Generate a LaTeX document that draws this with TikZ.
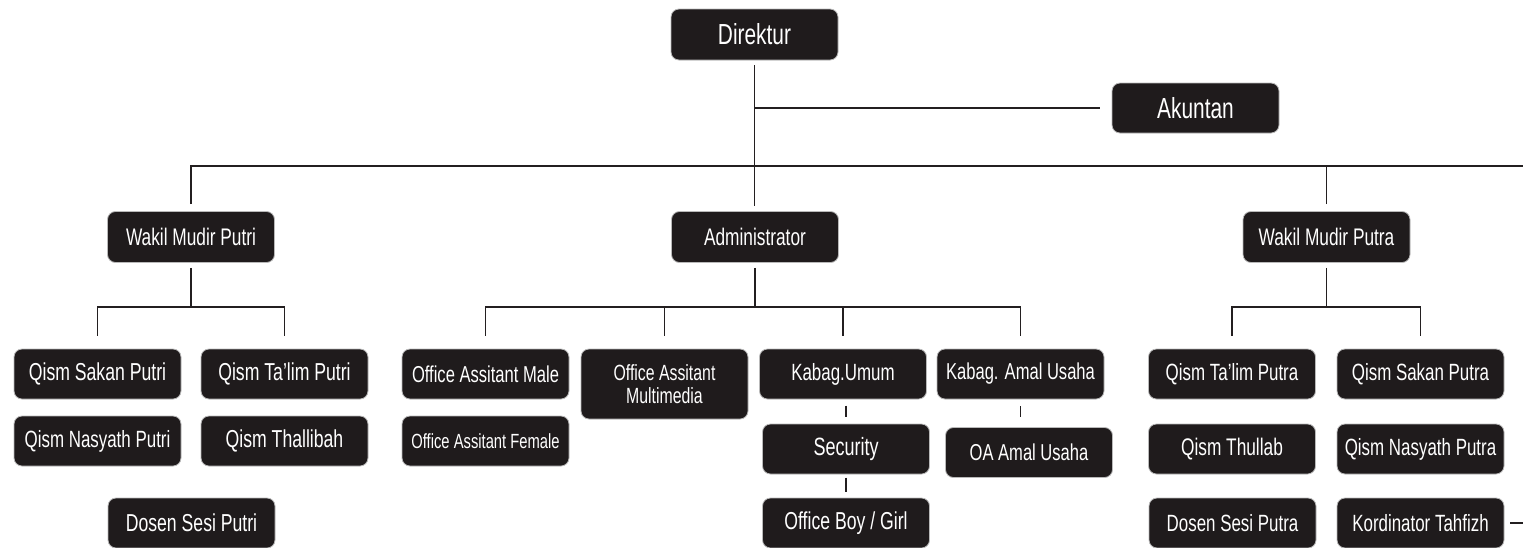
\documentclass[tikz,border=0pt]{standalone}
\usepackage{fontspec}
\setmainfont{Liberation Sans}[FakeStretch=0.72]
\usetikzlibrary{calc}
\definecolor{boxfill}{HTML}{1F1B1C}
\definecolor{linec}{HTML}{231F20}
\tikzset{
  orgbox/.style={draw=gray!55, line width=0.8pt, fill=boxfill, rounded corners=8pt,
    text=white, minimum width=167pt, minimum height=50pt, inner sep=0pt,
    font=\fontsize{24}{26}\selectfont, align=center},
  bigbox/.style={orgbox, font=\fontsize{29}{31}\selectfont, minimum height=51pt},
  conn/.style={draw=linec, line width=1.7pt},
  tick/.style={draw=linec, line width=1.7pt}
}
\begin{document}
\begin{tikzpicture}[x=1pt,y=-1pt]
\useasboundingbox (0,0) rectangle (1523,547);
% level 0/1
\node[bigbox] (dir) at (754.5,34.5) {Direktur};
\node[bigbox, minimum height=50pt] (akun) at (1195.5,108) {Akuntan};
% level 2
\node[orgbox, minimum height=51pt] (wput) at (191,237) {Wakil Mudir Putri};
\node[orgbox, minimum height=51pt] (adm) at (755,237) {Administrator};
\node[orgbox, minimum height=51pt] (wpa) at (1326.5,237) {Wakil Mudir Putra};
% Putri group
\node[orgbox, font=\fontsize{24.5}{26}\selectfont] (qsp) at (97.5,374) {Qism Sakan Putri};
\node[orgbox, font=\fontsize{24.5}{26}\selectfont] (qtp) at (284.5,374) {Qism Ta’lim Putri};
\node[orgbox, font=\fontsize{23.5}{26}\selectfont] (qnp) at (97.5,441) {Qism Nasyath Putri};
\node[orgbox, font=\fontsize{24.5}{26}\selectfont] (qth) at (284.5,441) {Qism Thallibah};
\node[orgbox, font=\fontsize{24.5}{26}\selectfont] (dsp) at (191.5,523) {Dosen Sesi Putri};
% Admin group
\node[orgbox, font=\fontsize{23}{26}\selectfont] (oam) at (485.5,374) {Office Assitant Male};
\node[orgbox, font=\fontsize{20.5}{26}\selectfont] (oaf) at (485.5,441) {Office Assitant Female};
\node[orgbox, minimum height=70pt, font=\fontsize{22}{23}\selectfont] (oamm) at (664.5,384) {Office Assitant\\Multimedia};
\node[orgbox, font=\fontsize{23.5}{26}\selectfont] (kum) at (843,374) {Kabag.Umum};
\node[orgbox, font=\fontsize{25}{26}\selectfont] (sec) at (846,449) {Security};
\node[orgbox, font=\fontsize{24.5}{26}\selectfont] (obg) at (846,523) {Office Boy / Girl};
\node[orgbox, font=\fontsize{23}{26}\selectfont] (kau) at (1020.5,374) {Kabag. Amal Usaha};
\node[orgbox, font=\fontsize{23}{26}\selectfont] (oau) at (1029,452.5) {OA Amal Usaha};
% Putra group
\node[orgbox, font=\fontsize{23.5}{26}\selectfont] (qtpa) at (1232,374) {Qism Ta’lim Putra};
\node[orgbox, font=\fontsize{23.5}{26}\selectfont] (qspa) at (1420.5,374) {Qism Sakan Putra};
\node[orgbox, font=\fontsize{24}{26}\selectfont] (qthu) at (1232,449) {Qism Thullab};
\node[orgbox, font=\fontsize{23.5}{26}\selectfont] (qnpa) at (1420.5,449) {Qism Nasyath Putra};
\node[orgbox, font=\fontsize{23.5}{26}\selectfont] (dspa) at (1232.5,523) {Dosen Sesi Putra};
\node[orgbox, font=\fontsize{23.5}{26}\selectfont] (kt) at (1420.5,523) {Kordinator Tahfizh};
% helper coordinates
\coordinate (busR) at (1523,166);
\coordinate (pb) at (191,307);
\coordinate (ab) at (755,307);
\coordinate (rb) at (1326.5,307);
\coordinate (ktend) at (1523,523);
% connectors
\draw[conn] ([yshift=-5pt]dir.south) -- ([yshift=5pt]dir.south |- adm.north);
\draw[conn] (dir.south |- akun.west) -- ([xshift=-12pt]akun.west);
\draw[conn] ([yshift=7pt]wput.north) |- (busR);
\draw[conn] ([yshift=7pt]wpa.north) -- (wpa.north |- busR);
% Putri
\draw[conn] ([yshift=-5pt]wput.south) -- (wput.south |- pb);
\draw[conn] ([yshift=13pt]qsp.north) |- (pb) -| ([yshift=13pt]qtp.north);
% Admin
\draw[conn] ([yshift=-5pt]adm.south) -- (adm.south |- ab);
\draw[conn] ([yshift=13pt]oam.north) |- (ab) -| ([yshift=13pt]kau.north);
\draw[conn] ([yshift=13pt]oamm.north) -- (oamm.north |- ab);
\draw[conn] ([yshift=13pt]kum.north) -- (kum.north |- ab);
\draw[tick] ([yshift=18pt]sec.north) -- ([yshift=7pt]sec.north);
\draw[tick] ([yshift=20pt]obg.north) -- ([yshift=6pt]obg.north);
\draw[tick] ([yshift=-7pt]kau.south) -- ([yshift=-18pt]kau.south);
% Putra
\draw[conn] ([yshift=-5pt]wpa.south) -- (wpa.south |- rb);
\draw[conn] ([yshift=13pt]qtpa.north) |- (rb) -| ([yshift=13pt]qspa.north);
\draw[tick] ([xshift=6pt]kt.east) -- (ktend);
\end{tikzpicture}
\end{document}
